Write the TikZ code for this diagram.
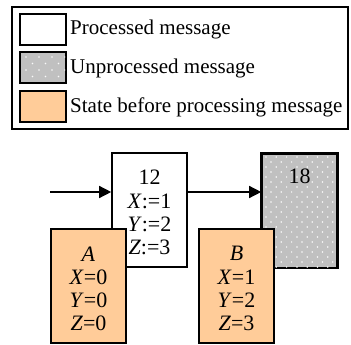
\documentclass[tikz,border=0pt]{standalone}
\usepackage{fontspec}
\setmainfont{Liberation Serif}
\usetikzlibrary{arrows.meta}
\definecolor{peach}{RGB}{255,204,153}
\definecolor{msggray}{RGB}{192,192,192}
\definecolor{dotwhite}{RGB}{250,250,250}
\tikzset{
  txt/.style={font=\fontsize{21}{22.6}\selectfont, inner sep=0pt},
  box/.style={draw=black, line width=1.6pt, minimum width=75pt, minimum height=114pt, inner sep=0pt},
  boxtext/.style={inner sep=0pt, align=center, font=\fontsize{22}{23.1}\selectfont},
  done/.style={box, fill=white},
  pending/.style={box, fill=msggray},
  statebox/.style={box, fill=peach},
  swatch/.style={draw=black, line width=2pt, minimum width=46pt, minimum height=31pt, inner sep=0pt},
  flow/.style={line width=1.4pt, -{Triangle[length=12pt,width=12pt]}},
  dot/.style={fill=dotwhite, draw=none}
}
\begin{document}
\begin{tikzpicture}[x=1pt, y=-1pt]
\useasboundingbox (0,0) rectangle (351,345);
\fill[white] (0,0) rectangle (351,345);
% legend
\node[draw=black, line width=1.3pt, minimum width=336pt, minimum height=122pt, inner sep=0pt] (legend) at (180,68) {};
\node[swatch, fill=white] (sw1) at (43,29.5) {};
\node[swatch, fill=msggray] (sw2) at (43,67.5) {};
\begin{scope}
  \clip (21,53) rectangle (65,82);
  \foreach \px in {0,...,4} \foreach \py in {0,...,3} {
    \fill[dot] (26+13*\px,57+13*\py) circle (0.9pt);
    \fill[dot] (32.5+13*\px,63.5+13*\py) circle (0.9pt);
  }
\end{scope}
\node[swatch, fill=peach] (sw3) at (43,106.5) {};
\node[txt, anchor=base west] (t1) at (70,35) {Processed message};
\node[txt, anchor=base west] (t2) at (70,74) {Unprocessed message};
\node[txt, anchor=base west] (t3) at (70,113) {State before processing message};
% messages
\coordinate (src) at (50,192);
\node[done] (m12) at (149.5,210) {};
\node[boxtext] (l12) at (149.5,212.5) {12\\\textit{X}:=1\\\textit{Y}:=2\\\textit{Z}:=3};
\node[pending, anchor=north] (m18) at (299.5,153) {};
\begin{scope}
  \clip (263,154) rectangle (336,267);
  \foreach \px in {0,...,7} \foreach \py in {0,...,11} {
    \fill[dot] (266+10.3*\px,157+10*\py) circle (0.85pt);
    \fill[dot] (271+10.3*\px,162+10*\py) circle (0.85pt);
  }
\end{scope}
\draw[line width=1.6pt] (m18.north west) rectangle (m18.south east);
\node[boxtext, anchor=base] (l18) at (299.5,183.5) {18};
\draw[flow] (src) -- (m12.west |- src);
\draw[flow] (m12.east |- src) -- (m18.west |- src);
% states
\node[statebox] (sA) at (88.5,286) {};
\node[boxtext] (lA) at (88.5,288.5) {\textit{A}\\\textit{X}=0\\\textit{Y}=0\\\textit{Z}=0};
\node[statebox] (sB) at (236.5,286) {};
\node[boxtext] (lB) at (236.5,288.5) {\textit{B}\\\textit{X}=1\\\textit{Y}=2\\\textit{Z}=3};
\end{tikzpicture}
\end{document}
